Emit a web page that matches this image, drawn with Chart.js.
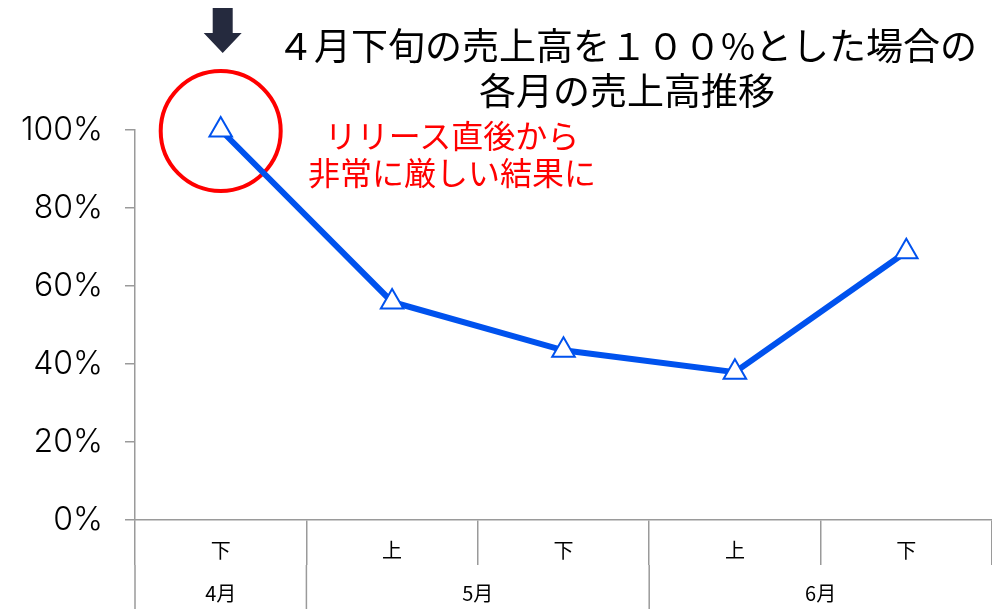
<!DOCTYPE html>
<html>
<head>
<meta charset="utf-8">
<script src="https://cdn.jsdelivr.net/npm/chart.js@4.4.0/dist/chart.umd.min.js"></script>
<style>
  html, body { margin: 0; padding: 0; background: #fff; }
  #wrap { position: relative; width: 992px; height: 609px; overflow: hidden; }
  canvas { position: absolute; left: 0; top: 0; }
  .txt { position: absolute; text-align: center; white-space: nowrap; font-family: "Noto Sans CJK JP", "Noto Sans", sans-serif; }
  #title { left: 277px; top: 22px; width: 700px; font-size: 37px; line-height: 45px; color: #000; }
  #note { left: 292px; top: 116px; width: 320px; font-size: 32px; line-height: 37px; color: #FF0000; }
</style>
</head>
<body>
<div id="wrap">
  <canvas id="c" width="992" height="609"></canvas>
  <div id="title" class="txt">４月下旬の売上高を１００%とした場合の<br>各月の売上高推移</div>
  <div id="note" class="txt">リリース直後から<br>非常に厳しい結果に</div>
</div>
<script>
const periodLabels = ['下', '上', '下', '上', '下'];
const monthLabels = ['4月', '5月', '6月'];
const monthSpans = [1, 2, 2];
const salesRatio = [100, 55.9, 43.5, 37.9, 68.8];
const yTicks = [0, 20, 40, 60, 80, 100];

const AXIS_GRAY = '#9a9a9a';
const FONT = '"Noto Sans CJK JP", "Noto Sans", sans-serif';

const decorPlugin = {
  id: 'decor',
  beforeDatasetsDraw(chart) {
    const ctx = chart.ctx;
    const pt = chart.getDatasetMeta(0).data[0];
    ctx.save();
    ctx.strokeStyle = '#FF0000';
    ctx.lineWidth = 4;
    ctx.beginPath();
    ctx.arc(pt.x, pt.y + 1, 60, 0, Math.PI * 2);
    ctx.stroke();
    // down arrow above first point
    const cx = pt.x + 2;
    ctx.fillStyle = '#252a3e';
    ctx.beginPath();
    ctx.moveTo(cx - 10, 8);
    ctx.lineTo(cx + 10, 8);
    ctx.lineTo(cx + 10, 33);
    ctx.lineTo(cx + 19, 33);
    ctx.lineTo(cx, 53);
    ctx.lineTo(cx - 19, 33);
    ctx.lineTo(cx - 10, 33);
    ctx.closePath();
    ctx.fill();
    ctx.restore();
  },
  afterDraw(chart) {
    const ctx = chart.ctx;
    const x = chart.scales.x;
    const catW = x.width / periodLabels.length;
    const bottom = chart.chartArea.bottom;
    const rowTop = bottom + 45;
    ctx.save();
    ctx.strokeStyle = AXIS_GRAY;
    ctx.lineWidth = 1.5;
    ctx.fillStyle = '#000';
    ctx.font = '20px ' + FONT;
    ctx.textAlign = 'center';
    ctx.textBaseline = 'middle';
    let start = 0;
    for (let g = 0; g < monthLabels.length; g++) {
      const left = x.left + start * catW;
      ctx.beginPath();
      ctx.moveTo(left, rowTop);
      ctx.lineTo(left, chart.height);
      ctx.stroke();
      const center = left + monthSpans[g] * catW / 2;
      ctx.fillText(monthLabels[g], center, bottom + 73);
      start += monthSpans[g];
    }
    ctx.restore();
  }
};

new Chart(document.getElementById('c'), {
  type: 'line',
  data: {
    labels: periodLabels,
    datasets: [{
      data: salesRatio,
      borderColor: '#0052EE',
      borderWidth: 6,
      pointStyle: 'triangle',
      pointRadius: 13,
      pointBorderWidth: 2,
      pointBackgroundColor: '#ffffff',
      pointBorderColor: '#0052EE',
      tension: 0,
      clip: false
    }]
  },
  plugins: [decorPlugin],
  options: {
    responsive: false,
    animation: false,
    layout: { autoPadding: false, padding: { top: 130, right: 0, left: 0, bottom: 0 } },
    plugins: { legend: { display: false }, tooltip: { enabled: false }, title: { display: false } },
    scales: {
      x: {
        type: 'category',
        offset: true,
        grid: { offset: true, drawOnChartArea: false, tickLength: 45, color: AXIS_GRAY, lineWidth: 1.5 },
        border: { color: AXIS_GRAY, width: 1.5 },
        ticks: { color: '#000', font: { size: 20, family: FONT }, padding: -27, maxRotation: 0 },
        afterFit(scale) { scale.height = 89; }
      },
      y: {
        min: 0, max: 100,
        afterBuildTicks(scale) { scale.ticks = yTicks.map(v => ({ value: v })); },
        grid: { drawOnChartArea: false, tickLength: 10, color: AXIS_GRAY, lineWidth: 1.5 },
        border: { color: AXIS_GRAY, width: 1.5 },
        ticks: { color: '#000', font: { size: 32, family: 'Inter, "DejaVu Sans", sans-serif', weight: 300 }, padding: 22, callback: v => v + '%' },
        afterFit(scale) { scale.width = 135; }
      }
    }
  }
});
</script>
</body>
</html>
